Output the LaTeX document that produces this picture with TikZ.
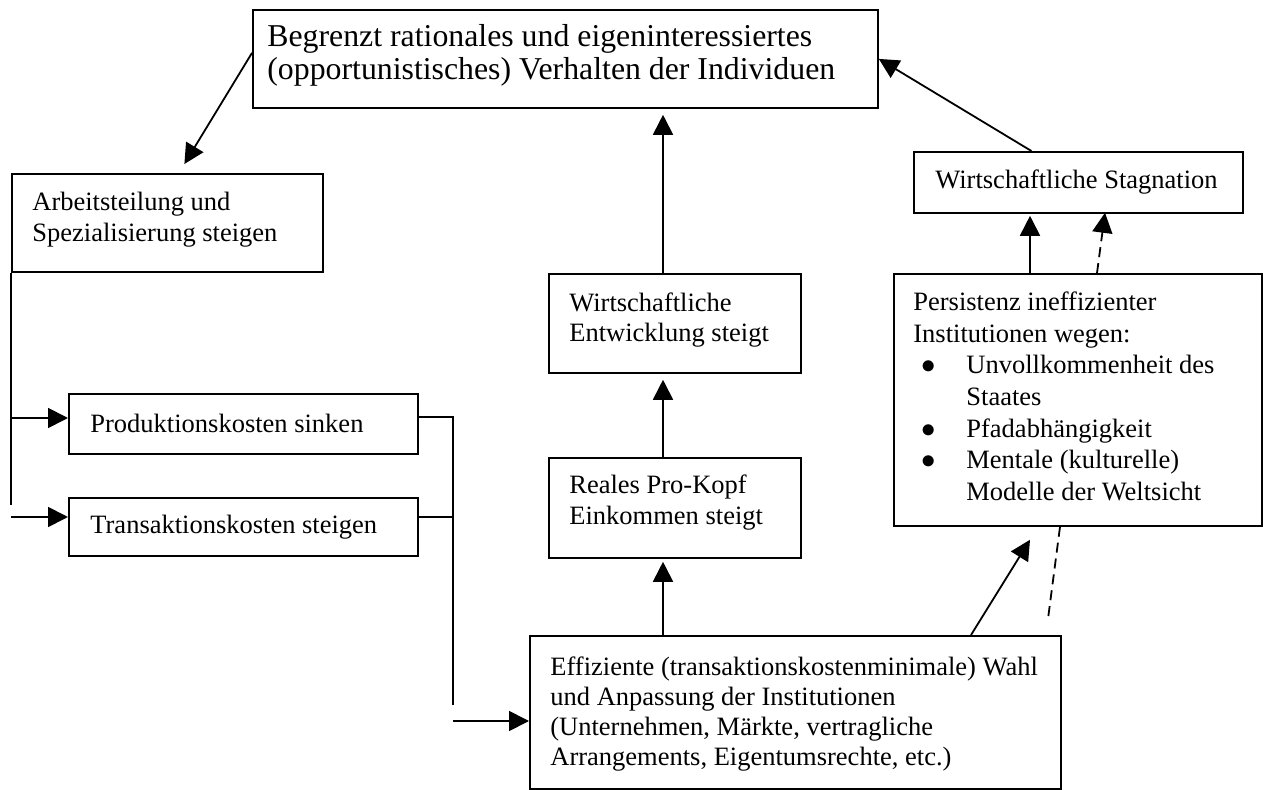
\documentclass[tikz,border=0pt]{standalone}
\usepackage{fontspec}
\setmainfont{Liberation Serif}
\usetikzlibrary{arrows.meta,calc}
\newcommand{\bul}{\makebox[26.5pt][l]{\hspace*{4pt}$\bullet$}}
\begin{document}
\begin{tikzpicture}[x=0.5pt,y=-0.5pt,
  box/.style={draw, line width=0.9pt, inner sep=0pt, anchor=north west},
  txt/.style={anchor=north west, inner sep=0pt, align=left, font={\fontsize{13.25}{#1}\selectfont}},
  bigtxt/.style={anchor=north west, inner sep=0pt, align=left, font={\fontsize{15.9}{#1}\selectfont}},
  ln/.style={line width=0.9pt},
  arr/.style={line width=0.9pt, -{Triangle[length=10pt,width=10pt]}},
  dsh/.style={dash pattern=on 5pt off 3pt}]
\useasboundingbox (0,0) rectangle (1263,790);
% boxes
\node[box, minimum width=312.5pt, minimum height=49pt] (top) at (252,9) {};
\node[box, minimum width=155.5pt, minimum height=49pt] (arb) at (11,173) {};
\node[box, minimum width=174.5pt, minimum height=30pt] (prod) at (68,393) {};
\node[box, minimum width=174.5pt, minimum height=29pt] (trans) at (68,497) {};
\node[box, minimum width=126pt, minimum height=49.5pt] (entw) at (548,273) {};
\node[box, minimum width=126pt, minimum height=50pt] (reales) at (548,457) {};
\node[box, minimum width=265.5pt, minimum height=76.5pt] (eff) at (529,635) {};
\node[box, minimum width=164.5pt, minimum height=30.5pt] (stag) at (913,151) {};
\node[box, minimum width=184pt, minimum height=126pt] (pers) at (893,273) {};
% texts
\node[bigtxt=16.5] (topt) at (267,22.9) {\strut Begrenzt rationales und eigeninteressiertes\\(opportunistisches) Verhalten der Individuen};
\node[txt=15.5] (arbt) at (32,188.3) {\strut Arbeitsteilung und\\Spezialisierung steigen};
\node[txt=15] (prodt) at (90,411) {\strut Produktionskosten sinken};
\node[txt=15] (transt) at (90,512) {\strut Transaktionskosten steigen};
\node[txt=15] (entwt) at (569,290) {\strut Wirtschaftliche\\Entwicklung steigt};
\node[txt=15.5] (realest) at (569,471.3) {\strut Reales Pro-Kopf\\Einkommen steigt};
\node[txt=15] (efft) at (550,654) {\strut Effiziente (transaktionskostenminimale) Wahl\\und Anpassung der Institutionen\\(Unternehmen, Märkte, vertragliche\\Arrangements, Eigentumsrechte, etc.)};
\node[txt=15] (stagt) at (935,167) {\strut Wirtschaftliche Stagnation};
\node[txt=15.85] (perst) at (913,287.8) {\strut Persistenz ineffizienter\\Institutionen wegen:\\
  \bul Unvollkommenheit des\\\hspace*{26.5pt}Staates\\
  \bul Pfadabhängigkeit\\
  \bul Mentale (kulturelle)\\\hspace*{26.5pt}Modelle der Weltsicht};
% connectors
\draw[arr] ($(top.west)+(0,-6)$) -- ($(arb.north)+(17,-9)$);
\draw[ln] (arb.south west) -- ++(0,232);
\coordinate (lp) at (11,418);
\coordinate (lt) at (11,517);
\draw[arr] (lp) -- (lp -| prod.west);
\draw[arr] (lt) -- (lt -| trans.west);
\coordinate (rp) at (453,417);
\coordinate (rt) at (453,517);
\coordinate (rb) at (453,705);
\coordinate (re) at (453,721);
\draw[ln] (rp -| prod.east) -- (rp) -- (rb);
\draw[ln] (rt -| trans.east) -- (rt);
\draw[arr] (re) -- (re -| eff.west);
\coordinate (va) at (663,635);
\draw[arr, shorten >=1.5pt] (va) -- (va |- reales.south);
\draw[arr, shorten >=3pt] (va |- reales.north) -- (va |- entw.south);
\draw[arr, shorten >=3pt] (va |- entw.north) -- (va |- top.south);
\draw[arr] ($(stag.north)+(-47,0)$) -- (top.east);
\coordinate (ps) at (1030,273);
\draw[arr, shorten >=1pt] (ps) -- (ps |- stag.south);
\draw[arr, dsh] ($(pers.north west)+(204,0)$) -- ($(stag.south west)+(192,-1)$);
\draw[arr] ($(eff.north west)+(442,0)$) -- ($(pers.south west)+(137,13)$);
\draw[ln, dsh] ($(pers.south west)+(167,0)$) -- ($(pers.south west)+(155,92)$);
\end{tikzpicture}
\end{document}
